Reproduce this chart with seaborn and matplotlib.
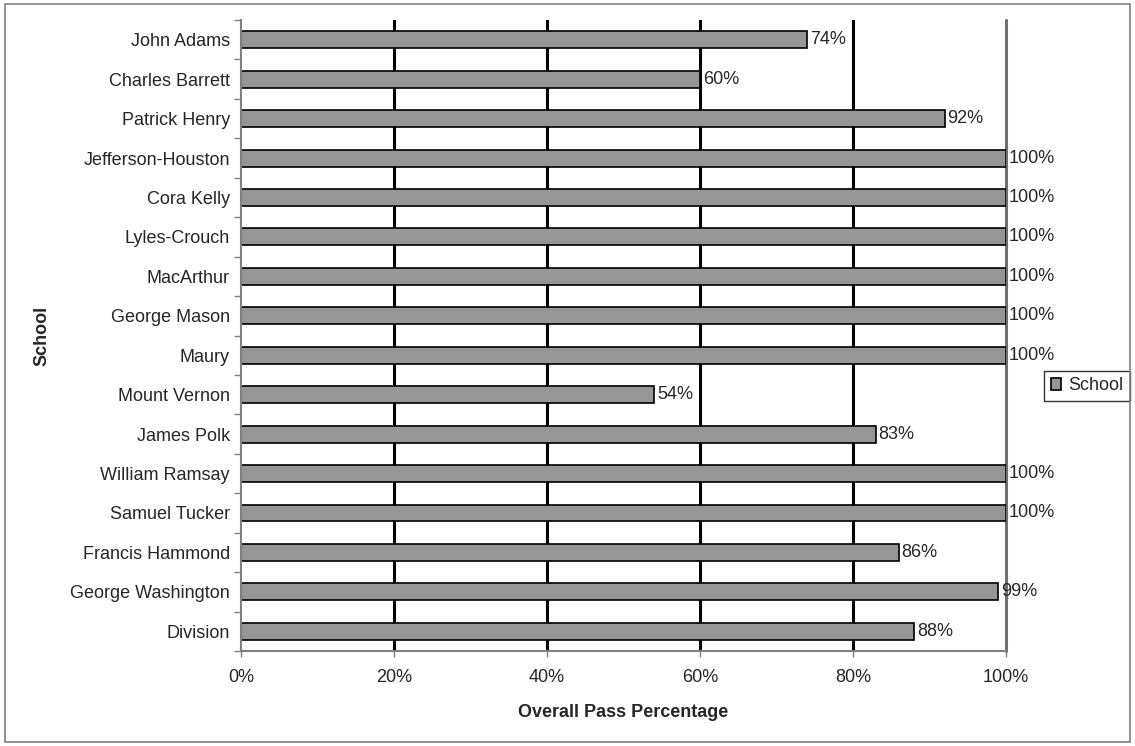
import matplotlib
matplotlib.use('Agg')
import matplotlib.pyplot as plt
import seaborn as sns
import pandas as pd
from matplotlib.patches import Rectangle
from matplotlib.ticker import FixedLocator, PercentFormatter

schools = ["John Adams", "Charles Barrett", "Patrick Henry", "Jefferson-Houston",
           "Cora Kelly", "Lyles-Crouch", "MacArthur", "George Mason", "Maury",
           "Mount Vernon", "James Polk", "William Ramsay", "Samuel Tucker",
           "Francis Hammond", "George Washington", "Division"]
pass_pct = [74, 60, 92, 100, 100, 100, 100, 100, 100, 54, 83, 100, 100, 86, 99, 88]
x_ticks = [0, 20, 40, 60, 80, 100]

df = pd.DataFrame({"School": schools, "Pass": pass_pct})

sns.set_style("white")
plt.rcParams['font.family'] = ['Liberation Sans', 'DejaVu Sans']
FS = 13

fig = plt.figure(figsize=(11.35, 7.46), dpi=100)
ax = fig.add_axes([0.2123, 0.1273, 0.8863 - 0.2123, 0.9732 - 0.1273])

sns.barplot(data=df, x="Pass", y="School", orient="h", color="#969696",
            edgecolor="black", linewidth=1.2, width=0.43, saturation=1,
            label="School", ax=ax)

ax.set_xlim(0, 100)
ax.set_ylim(len(schools) - 0.5, -0.5)

# gridlines
for v in x_ticks[1:-1]:
    ax.axvline(v, color="black", lw=2.2, zorder=0)
ax.axvline(100, color="#707070", lw=2.2, zorder=0, clip_on=False)

for s in ["top", "right"]:
    ax.spines[s].set_visible(False)
for s in ["left", "bottom"]:
    ax.spines[s].set_color("#808080")
    ax.spines[s].set_linewidth(1.5)

ax.set_xticks(x_ticks)
ax.xaxis.set_major_formatter(PercentFormatter(decimals=0))
ax.tick_params(axis="x", length=4, width=1, color="#808080", pad=9,
               labelsize=FS, bottom=True)
ax.tick_params(axis="y", which="major", length=0, pad=8, labelsize=FS, left=True)
ax.yaxis.set_minor_locator(FixedLocator([i - 0.5 for i in range(len(schools) + 1)]))
ax.tick_params(axis="y", which="minor", length=5, width=1, color="#808080", left=True)

ax.bar_label(ax.containers[0], fmt="%d%%", padding=2, fontsize=FS)

ax.set_xlabel("Overall Pass Percentage", fontsize=FS, fontweight="bold", labelpad=13)
ax.set_ylabel("School", fontsize=FS, fontweight="bold", labelpad=14)

ax.legend(loc="center left", bbox_to_anchor=(1.05, 0.42), frameon=True,
          fancybox=False, edgecolor="black", fontsize=FS, handlelength=0.6,
          handleheight=0.6, handletextpad=0.4, borderpad=0.35, borderaxespad=0)

# outer chart border
fig.patches.append(Rectangle((5 / 1135, 4 / 746), 1125 / 1135, 738 / 746,
                             transform=fig.transFigure, fill=False,
                             edgecolor="#808080", lw=1.2))

fig.savefig("out.png", dpi=100)
